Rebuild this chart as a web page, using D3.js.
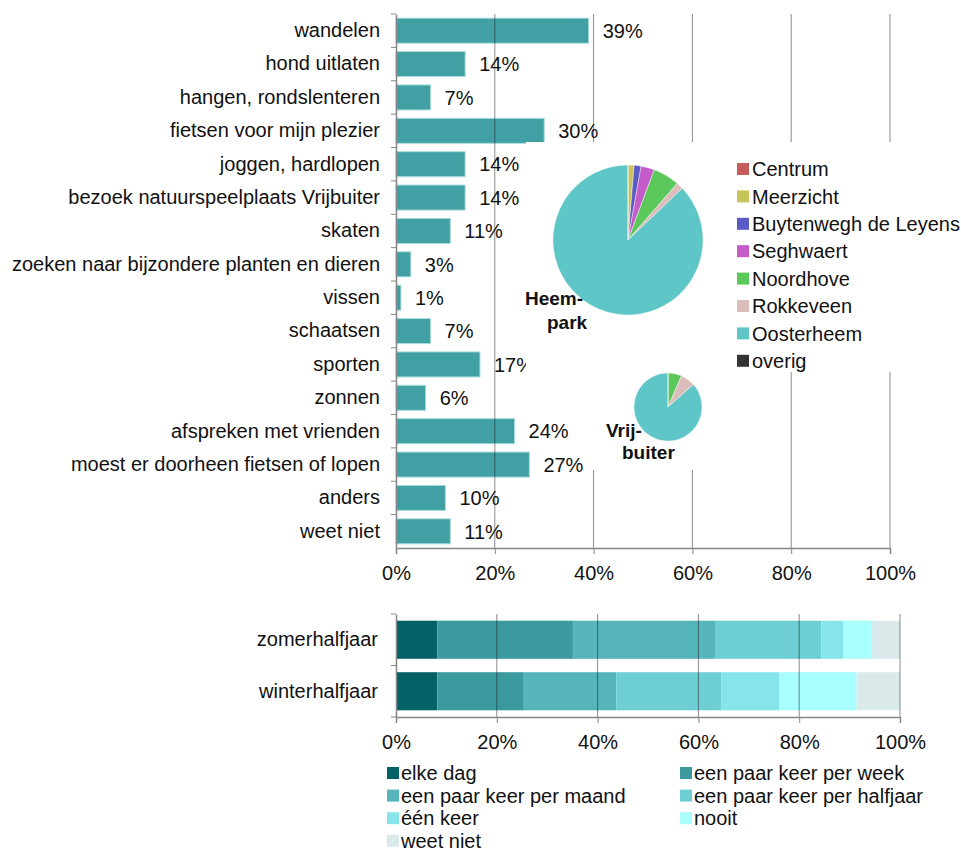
<!DOCTYPE html>
<html>
<head>
<meta charset="utf-8">
<script src="https://cdn.jsdelivr.net/npm/d3@7"></script>
<style>
  body { margin: 0; background: #fff; }
  svg { font-family: "Liberation Sans", Arial, sans-serif; }
</style>
</head>
<body>
<svg id="chart" width="961" height="851"></svg>
<script>
// activiteiten (percentages)
const activities = ['wandelen', 'hond uitlaten', 'hangen, rondslenteren', 'fietsen voor mijn plezier',
    'joggen, hardlopen', 'bezoek natuurspeelplaats Vrijbuiter', 'skaten',
    'zoeken naar bijzondere planten en dieren', 'vissen', 'schaatsen', 'sporten', 'zonnen',
    'afspreken met vrienden', 'moest er doorheen fietsen of lopen', 'anders', 'weet niet'];
const activityValues = [39, 14, 7, 30, 14, 14, 11, 3, 1, 7, 17, 6, 24, 27, 10, 11];
const pctTicks = [0, 20, 40, 60, 80, 100];

// herkomst (wijken)
const districts = ['Centrum', 'Meerzicht', 'Buytenwegh de Leyens', 'Seghwaert', 'Noordhove',
    'Rokkeveen', 'Oosterheem', 'overig'];
const districtColors = ['#C65B5B', '#C8C45A', '#5B5BC8', '#C55BC8', '#5BC85B', '#DDBCBC', '#5EC6C6', '#333333'];
const heemparkValues = [0, 1.3, 1.5, 2.9, 5.7, 1.5, 87.1, 0];
const vrijbuiterValues = [0, 0, 0, 0, 6.5, 7, 86.5, 0];

// frequentie
const seasons = ['zomerhalfjaar', 'winterhalfjaar'];
const frequencies = ['elke dag', 'een paar keer per week', 'een paar keer per maand',
    'een paar keer per halfjaar', 'één keer', 'nooit', 'weet niet'];
const freqColors = ['#046166', '#3A9A9E', '#55B5BA', '#6DCED4', '#86E5EB', '#A9FEFE', '#DAEAEA'];
const zomerValues = [8.2, 26.9, 28.2, 21.1, 4.4, 5.6, 5.6];
const winterValues = [8.2, 17.0, 18.5, 20.8, 11.6, 15.3, 8.6];

const svg = d3.select('#chart');
const axisColor = '#868686';

// ---------- top bar chart ----------
const x1 = d3.scaleLinear().domain([0, 100]).range([396, 890]);
const y1 = d3.scaleBand().domain(activities).range([14, 548]).paddingInner(0.25).paddingOuter(0.125);

const topG = svg.append('g');

topG.selectAll('rect.bar')
    .data(activities)
    .enter()
    .append('rect')
    .attr('class', 'bar')
    .attr('x', x1(0))
    .attr('y', d => y1(d))
    .attr('width', (d, i) => x1(activityValues[i]) - x1(0))
    .attr('height', y1.bandwidth())
    .attr('fill', '#40A0A4')
    .attr('stroke', '#a9dcde')
    .attr('stroke-width', 1);

topG.selectAll('text.val')
    .data(activities)
    .enter()
    .append('text')
    .attr('x', (d, i) => x1(activityValues[i]) + 14)
    .attr('y', d => y1(d) + y1.bandwidth() / 2)
    .attr('dy', '0.36em')
    .attr('font-size', 20)
    .attr('fill', '#111')
    .text((d, i) => activityValues[i] + '%');

topG.selectAll('line.grid')
    .data(pctTicks.slice(1))
    .enter()
    .append('line')
    .attr('x1', d => x1(d)).attr('x2', d => x1(d))
    .attr('y1', 14).attr('y2', 548)
    .attr('stroke', '#1a1a1a')
    .attr('stroke-opacity', 0.5);

const yAxis1 = d3.axisLeft(y1).tickSize(0).tickPadding(16);
const gy1 = topG.append('g').attr('transform', `translate(${x1(0)},0)`).call(yAxis1).attr('font-family', null);
gy1.select('.domain').attr('stroke', axisColor).attr('stroke-width', 1.5);
gy1.selectAll('text').attr('font-size', 20).attr('fill', '#111');
// band boundary ticks
gy1.selectAll('line.bt')
    .data(activities)
    .enter()
    .append('line')
    .attr('x1', -5).attr('x2', 0)
    .attr('y1', d => y1(d) - y1.step() * y1.paddingInner() / 2)
    .attr('y2', d => y1(d) - y1.step() * y1.paddingInner() / 2)
    .attr('stroke', axisColor);

const xAxis1 = d3.axisBottom(x1).tickValues(pctTicks).tickFormat(d => d + '%').tickSize(6).tickPadding(12);
const gx1 = topG.append('g').attr('transform', 'translate(0,548)').call(xAxis1).attr('font-family', null);
gx1.select('.domain').attr('stroke', axisColor).attr('stroke-width', 1.5);
gx1.selectAll('line').attr('stroke', axisColor);
gx1.selectAll('text').attr('font-size', 20).attr('fill', '#111');

// ---------- pie inserts ----------
svg.append('rect').attr('x', 526).attr('y', 142).attr('width', 435).attr('height', 230).attr('fill', '#fff');
svg.append('rect').attr('x', 586).attr('y', 372).attr('width', 144).attr('height', 98).attr('fill', '#fff');

const pie = d3.pie().sort(null).value(d => d);
const color = d3.scaleOrdinal().domain(districts).range(districtColors);

function drawPie(values, cx, cy, r) {
    const arc = d3.arc().innerRadius(0).outerRadius(r);
    svg.append('g')
        .attr('transform', `translate(${cx},${cy})`)
        .selectAll('path')
        .data(pie(values))
        .enter()
        .append('path')
        .attr('d', arc)
        .attr('fill', (d, i) => color(districts[i]))
        .attr('stroke', '#fff')
        .attr('stroke-width', 0.4);
}
drawPie(heemparkValues, 628, 240, 75);
drawPie(vrijbuiterValues, 668, 407, 34);

const bold = svg.append('g').attr('font-size', 19).attr('font-weight', 'bold').attr('fill', '#111');
bold.append('text').attr('x', 525).attr('y', 305).text('Heem-');
bold.append('text').attr('x', 547).attr('y', 329).text('park');
bold.append('text').attr('x', 606).attr('y', 437).text('Vrij-');
bold.append('text').attr('x', 622).attr('y', 459).text('buiter');

const legend1 = svg.append('g').selectAll('g')
    .data(districts)
    .enter()
    .append('g')
    .attr('transform', (d, i) => `translate(737,${169 + i * 27.4})`);
legend1.append('rect').attr('x', 0).attr('y', -6).attr('width', 12).attr('height', 12).attr('fill', d => color(d));
legend1.append('text').attr('x', 15).attr('dy', '0.36em').attr('font-size', 20).attr('fill', '#111').text(d => d);

// ---------- bottom stacked bars ----------
const x2 = d3.scaleLinear().domain([0, 100]).range([396, 900]);
const y2 = d3.scaleBand().domain(seasons).range([614, 717]).paddingInner(0.26).paddingOuter(0.13);

const rows = seasons.map((s, i) => {
    const row = { season: s };
    const vals = i === 0 ? zomerValues : winterValues;
    frequencies.forEach((f, j) => { row[f] = vals[j]; });
    return row;
});
const stack = d3.stack().keys(frequencies)(rows);
const fcolor = d3.scaleOrdinal().domain(frequencies).range(freqColors);

const bottomG = svg.append('g');
bottomG.selectAll('g.layer')
    .data(stack)
    .enter()
    .append('g')
    .attr('fill', d => fcolor(d.key))
    .selectAll('rect')
    .data(d => d)
    .enter()
    .append('rect')
    .attr('x', d => x2(d[0]))
    .attr('y', d => y2(d.data.season))
    .attr('width', d => x2(d[1]) - x2(d[0]))
    .attr('height', y2.bandwidth());

bottomG.selectAll('line.grid')
    .data(pctTicks.slice(1))
    .enter()
    .append('line')
    .attr('x1', d => x2(d)).attr('x2', d => x2(d))
    .attr('y1', 614).attr('y2', 717)
    .attr('stroke', '#1a1a1a')
    .attr('stroke-opacity', 0.5);

const gy2 = bottomG.append('g').attr('transform', `translate(${x2(0)},0)`)
    .call(d3.axisLeft(y2).tickSize(0).tickPadding(18)).attr('font-family', null);
gy2.select('.domain').attr('stroke', axisColor).attr('stroke-width', 1.5);
gy2.selectAll('text').attr('font-size', 20).attr('fill', '#111');
gy2.selectAll('line.bt')
    .data([614, 665.5, 717])
    .enter()
    .append('line')
    .attr('x1', -5).attr('x2', 0)
    .attr('y1', d => d).attr('y2', d => d)
    .attr('stroke', axisColor);

const gx2 = bottomG.append('g').attr('transform', 'translate(0,717)')
    .call(d3.axisBottom(x2).tickValues(pctTicks).tickFormat(d => d + '%').tickSize(6).tickPadding(12))
    .attr('font-family', null);
gx2.select('.domain').attr('stroke', axisColor).attr('stroke-width', 1.5);
gx2.selectAll('line').attr('stroke', axisColor);
gx2.selectAll('text').attr('font-size', 20).attr('fill', '#111');

const legend2 = svg.append('g').selectAll('g')
    .data(frequencies)
    .enter()
    .append('g')
    .attr('transform', (d, i) => `translate(${i % 2 === 0 ? 387 : 680},${773 + Math.floor(i / 2) * 22.6})`);
legend2.append('rect').attr('x', 0).attr('y', -6).attr('width', 12).attr('height', 12).attr('fill', d => fcolor(d));
legend2.append('text').attr('x', 14).attr('dy', '0.36em').attr('font-size', 20).attr('fill', '#111').text(d => d);
</script>
</body>
</html>
